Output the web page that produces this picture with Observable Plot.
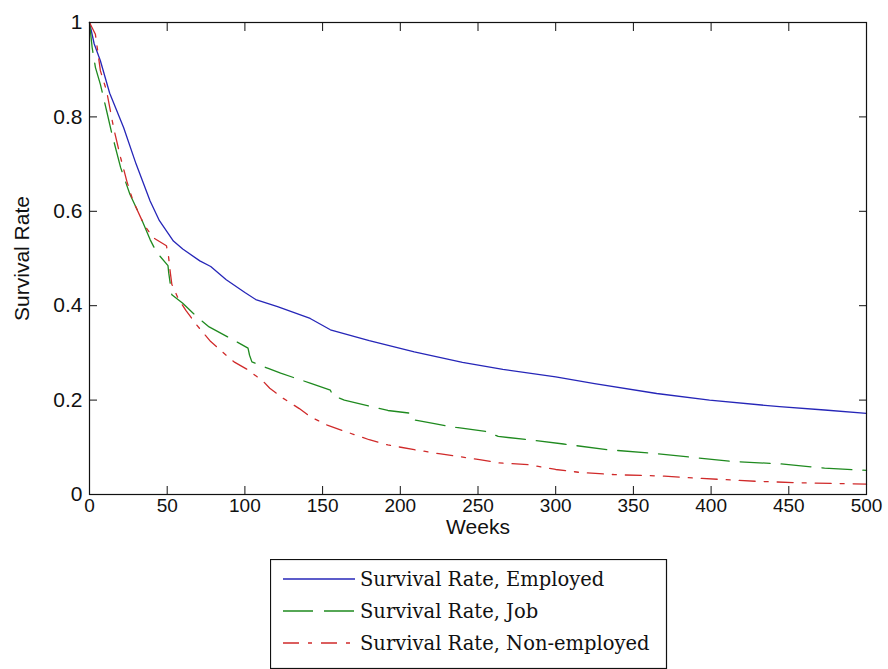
<!DOCTYPE html>
<html>
<head>
<meta charset="utf-8">
<script src="https://cdn.jsdelivr.net/npm/d3@7"></script>
<script src="https://cdn.jsdelivr.net/npm/@observablehq/plot@0.6"></script>
<style>
  html, body { margin: 0; padding: 0; background: #fff; }
  #wrap { position: relative; width: 888px; height: 669px; }
  #legend { position: absolute; left: 270px; top: 559px; }
</style>
</head>
<body>
<div id="wrap"></div>
<script>
// ---- data ----
const seriesNames = ["Survival Rate, Employed", "Survival Rate, Job", "Survival Rate, Non-employed"];

const weeksEmployed = [0, 3, 7, 13, 22, 30, 39, 45, 54, 60, 71, 78, 88, 100, 107, 121, 142, 155, 180, 209, 240, 266, 300, 325, 365, 399, 444, 473, 500];
const survEmployed  = [1.0, 0.955, 0.919, 0.85, 0.777, 0.70, 0.622, 0.58, 0.537, 0.52, 0.495, 0.483, 0.455, 0.428, 0.413, 0.398, 0.373, 0.349, 0.326, 0.302, 0.28, 0.265, 0.249, 0.235, 0.214, 0.2, 0.186, 0.179, 0.172];

const weeksJob = [0, 1.7, 3.8, 7, 11, 14.5, 20, 26, 33, 39, 43, 50.5, 51, 53, 60, 69, 77, 94.5, 102, 103, 104.5, 115, 123, 142, 155, 156.5, 164, 182, 192, 207, 209, 222, 236, 256, 263, 285, 305, 333, 360, 387, 414, 444, 473, 500];
const survJob  = [1.0, 0.947, 0.905, 0.869, 0.813, 0.763, 0.693, 0.636, 0.587, 0.54, 0.514, 0.485, 0.469, 0.423, 0.405, 0.377, 0.355, 0.324, 0.31, 0.295, 0.281, 0.267, 0.257, 0.236, 0.221, 0.21, 0.2, 0.186, 0.178, 0.172, 0.158, 0.15, 0.142, 0.133, 0.123, 0.115, 0.107, 0.095, 0.088, 0.079, 0.07, 0.065, 0.056, 0.051];

const weeksNonEmp = [0, 3.8, 7, 11, 15.5, 20, 24, 28, 35, 41, 49.5, 50.7, 52, 53, 57, 62, 69, 78, 88, 93, 102, 112, 116, 124.5, 135, 142, 153, 165, 180, 192, 209, 226, 251, 263, 283, 300, 315, 338, 370, 394, 429, 456, 500];
const survNonEmp  = [1.0, 0.975, 0.898, 0.855, 0.777, 0.714, 0.664, 0.622, 0.572, 0.544, 0.527, 0.509, 0.47, 0.445, 0.416, 0.39, 0.359, 0.324, 0.295, 0.281, 0.264, 0.239, 0.225, 0.204, 0.182, 0.165, 0.147, 0.133, 0.116, 0.105, 0.095, 0.086, 0.074, 0.067, 0.063, 0.053, 0.047, 0.042, 0.039, 0.034, 0.028, 0.025, 0.022];

const xTicks = [0, 50, 100, 150, 200, 250, 300, 350, 400, 450, 500];
const yTicks = [0, 0.2, 0.4, 0.6, 0.8, 1];
const yTickLabels = ["0", "0.2", "0.4", "0.6", "0.8", "1"];

// ---- styles ----
const colors = ["#2626b8", "#1f8a1f", "#d02a2a"];
const dashes = [null, "30,11", "16,9,4,9"];

const rows = [];
[[weeksEmployed, survEmployed], [weeksJob, survJob], [weeksNonEmp, survNonEmp]].forEach(([w, s], k) => {
  w.forEach((wk, i) => rows.push({series: seriesNames[k], week: wk, surv: s[i]}));
});

const fontSans = "'Liberation Sans', Arial, Helvetica, sans-serif";

const lineMarks = seriesNames.map((name, k) =>
  Plot.line(rows.filter(d => d.series === name), {
    x: "week", y: "surv", stroke: colors[k], strokeWidth: 1.3,
    strokeDasharray: dashes[k] || undefined
  })
);

const chart = Plot.plot({
  width: 888,
  height: 545,
  marginLeft: 89,
  marginRight: 22,
  marginTop: 22,
  marginBottom: 51,
  x: {domain: [0, 500]},
  y: {domain: [0, 1]},
  style: {fontFamily: fontSans, fontSize: "20px", color: "#111", background: "white", overflow: "visible"},
  marks: [
    ...lineMarks,
    Plot.axisX({anchor: "bottom", ticks: xTicks, tickSize: -8, tickPadding: 12, label: null, fontSize: 19, tickFormat: d => String(d)}),
    Plot.axisX({anchor: "top", ticks: xTicks, tickSize: -8, label: null, tickFormat: () => ""}),
    Plot.axisY({anchor: "left", ticks: yTicks, tickSize: -8, tickPadding: 15, label: null, fontSize: 21, tickFormat: (d, i) => yTickLabels[i]}),
    Plot.axisY({anchor: "right", ticks: yTicks, tickSize: -8, label: null, tickFormat: () => ""}),
    Plot.frame({stroke: "#111", strokeWidth: 1.2}),
    Plot.text(["Weeks"], {frameAnchor: "bottom", dy: 39, fontSize: 21, fill: "#111", text: d => d, letterSpacing: 1}),
    Plot.text(["Survival Rate"], {frameAnchor: "left", textAnchor: "middle", dx: -67, rotate: -90, fontSize: 21, fill: "#111", text: d => d, letterSpacing: 0.6})
  ]
});

const wrap = document.getElementById("wrap");
wrap.appendChild(chart);

// ---- legend (below the plot) ----
const lw = 396, lh = 109;
const legend = d3.select(wrap).append("svg")
  .attr("id", "legend")
  .attr("width", lw + 2).attr("height", lh + 2);
legend.append("rect")
  .attr("x", 0.5).attr("y", 0.5).attr("width", lw).attr("height", lh)
  .attr("fill", "white").attr("stroke", "#111").attr("stroke-width", 1.2);
const rowY = [20, 52, 84];
seriesNames.forEach((name, k) => {
  legend.append("line")
    .attr("x1", 13).attr("x2", 85).attr("y1", rowY[k]).attr("y2", rowY[k])
    .attr("stroke", colors[k]).attr("stroke-width", 1.3)
    .attr("stroke-dasharray", dashes[k]);
  legend.append("text")
    .attr("x", 90).attr("y", rowY[k])
    .attr("dy", "0.35em")
    .attr("font-family", "'DejaVu Serif', 'Liberation Serif', serif")
    .attr("font-size", 19.5)
    .attr("fill", "#111")
    .text(name);
});
</script>
</body>
</html>
